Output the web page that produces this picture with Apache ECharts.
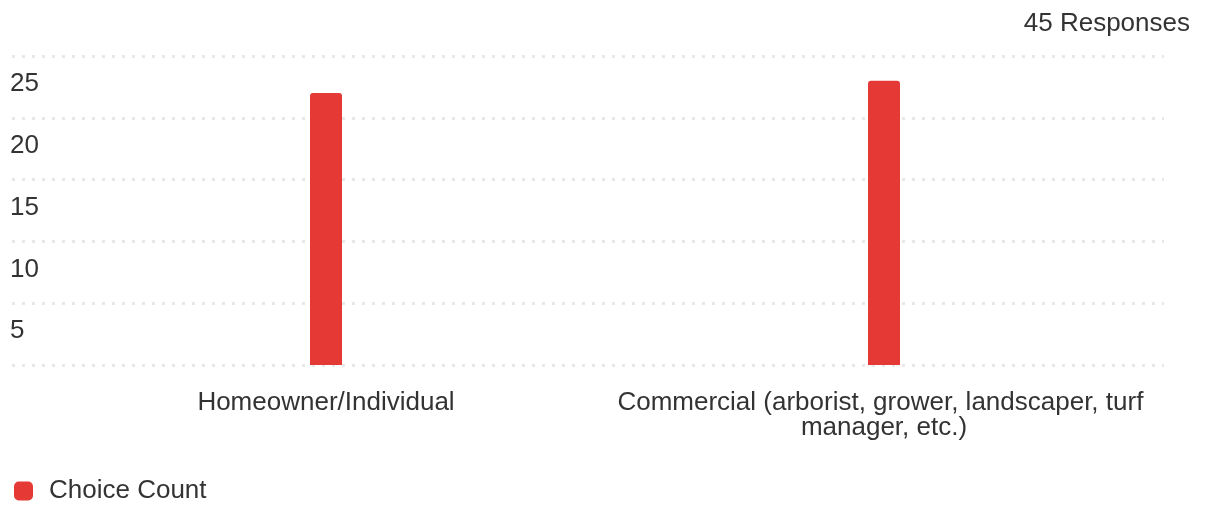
<!DOCTYPE html>
<html>
<head>
<meta charset="utf-8">
<script src="https://cdn.jsdelivr.net/npm/echarts@6/dist/echarts.min.js"></script>
<style>
  html, body { margin: 0; padding: 0; background: #ffffff; }
  #chart { width: 1207px; height: 505px; }
</style>
</head>
<body>
<div id="chart"></div>
<script>
// Survey answer counts
const categories = ['Homeowner/Individual', 'Commercial (arborist, grower, landscaper, turf manager, etc.)'];
const choiceCount = [22, 23];
const seriesName = 'Choice Count';
const totalLabel = '45 Responses';
const yTicks = { min: 0, max: 25, interval: 5 };

const FONT = '"Liberation Sans", Arial, Helvetica, sans-serif';
const TEXT = '#333333';
const RED = '#e53935';

const chart = echarts.init(document.getElementById('chart'), null, { renderer: 'canvas' });

chart.setOption({
  animation: false,
  backgroundColor: '#ffffff',
  textStyle: { fontFamily: FONT },
  title: {
    text: totalLabel,
    right: 12,
    top: 6,
    textStyle: { fontFamily: FONT, fontSize: 26, fontWeight: 'normal', color: TEXT }
  },
  legend: {
    left: 14,
    top: 478,
    padding: 0,
    itemWidth: 19,
    itemHeight: 19,
    icon: 'roundRect',
    data: [seriesName],
    textStyle: { fontFamily: FONT, fontSize: 26, color: TEXT, padding: [0, 0, 0, 11] }
  },
  grid: [
    // full-width grid carrying the dotted guide lines and value labels
    { left: 12, right: 43, top: 56, bottom: 140, containLabel: false },
    // grid holding the bars
    { left: 47, right: 44, top: 56, bottom: 140, containLabel: false }
  ],
  xAxis: [
    { gridIndex: 0, type: 'value', show: false, min: 0, max: 1 },
    {
      gridIndex: 1,
      type: 'category',
      data: categories,
      axisLine: { show: false },
      axisTick: { show: false },
      axisLabel: {
        fontFamily: FONT,
        fontSize: 26,
        lineHeight: 25,
        color: TEXT,
        margin: 25,
        width: 560,
        overflow: 'break',
        interval: 0
      }
    }
  ],
  yAxis: [
    {
      gridIndex: 0,
      type: 'value',
      min: yTicks.min,
      max: yTicks.max,
      interval: yTicks.interval,
      axisLine: { show: false },
      axisTick: { show: false },
      splitLine: {
        show: true,
        lineStyle: { color: '#e8e8e8', width: 3, type: [3, 7] }
      },
      axisLabel: {
        inside: true,
        margin: -2,
        align: 'left',
        verticalAlign: 'top',
        padding: [15, 0, 0, 0],
        fontFamily: FONT,
        fontSize: 26,
        color: TEXT,
        formatter: v => (v === 0 ? '' : String(v))
      }
    },
    {
      gridIndex: 1,
      type: 'value',
      min: yTicks.min,
      max: yTicks.max,
      interval: yTicks.interval,
      show: false,
      splitLine: { show: false }
    }
  ],
  series: [
    {
      name: seriesName,
      type: 'bar',
      xAxisIndex: 1,
      yAxisIndex: 1,
      data: choiceCount,
      barWidth: 32,
      itemStyle: { color: RED, borderRadius: [3, 3, 0, 0] }
    }
  ]
});
</script>
</body>
</html>
